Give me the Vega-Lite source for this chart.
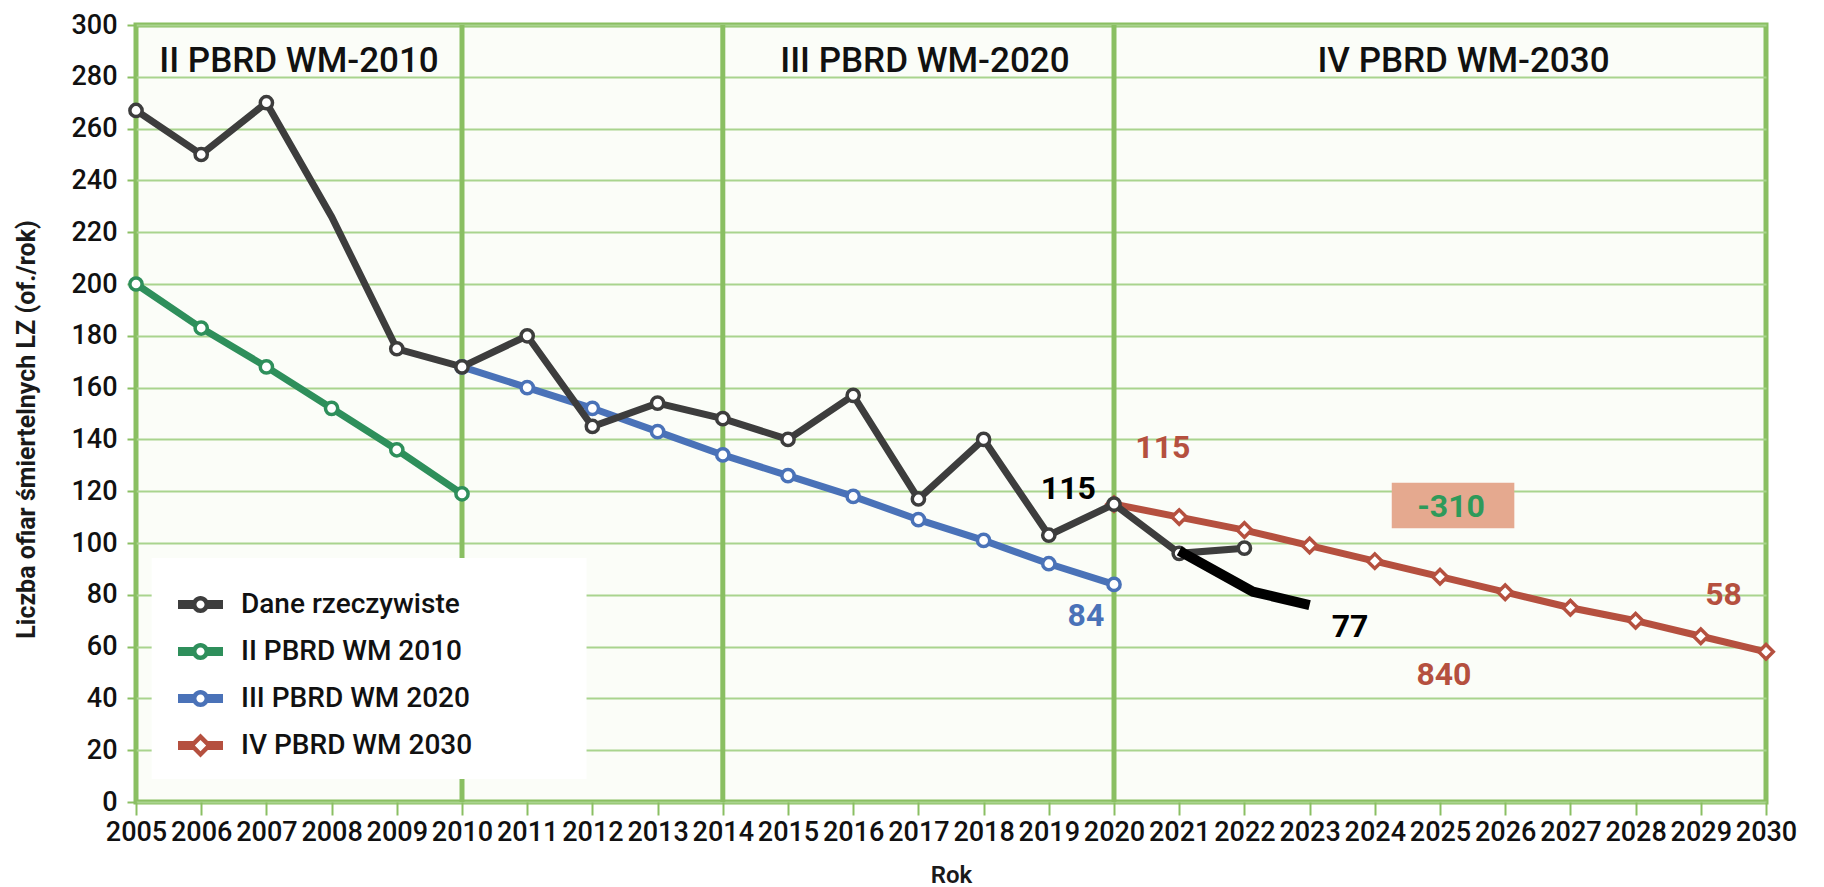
{
  "$schema": "https://vega.github.io/schema/vega-lite/v6.json",
  "width": 1630,
  "height": 777,
  "autosize": {"type": "none"},
  "padding": {"left": 136, "top": 25, "right": 58, "bottom": 85},
  "background": "white",
  "config": {
    "font": "Roboto",
    "view": {"fill": "#fbfdf8", "stroke": "#8abf62", "strokeWidth": 5},
    "axis": {
      "labelFont": "Roboto",
      "labelFontSize": 27,
      "labelFontWeight": 500,
      "labelColor": "#111111",
      "titleFont": "Roboto",
      "titleColor": "#1a1a1a",
      "domain": false,
      "tickColor": "#8abf62",
      "tickWidth": 2
    },
    "legend": {
      "labelFont": "Roboto",
      "labelFontSize": 28,
      "labelFontWeight": 500,
      "labelColor": "#111111"
    }
  },
  "datasets": {
    "serie": [
      {"rok": 2005, "wartosc": 267, "seria": "Dane rzeczywiste"},
      {"rok": 2006, "wartosc": 250, "seria": "Dane rzeczywiste"},
      {"rok": 2007, "wartosc": 270, "seria": "Dane rzeczywiste"},
      {"rok": 2008, "wartosc": 226, "seria": "Dane rzeczywiste"},
      {"rok": 2009, "wartosc": 175, "seria": "Dane rzeczywiste"},
      {"rok": 2010, "wartosc": 168, "seria": "Dane rzeczywiste"},
      {"rok": 2011, "wartosc": 180, "seria": "Dane rzeczywiste"},
      {"rok": 2012, "wartosc": 145, "seria": "Dane rzeczywiste"},
      {"rok": 2013, "wartosc": 154, "seria": "Dane rzeczywiste"},
      {"rok": 2014, "wartosc": 148, "seria": "Dane rzeczywiste"},
      {"rok": 2015, "wartosc": 140, "seria": "Dane rzeczywiste"},
      {"rok": 2016, "wartosc": 157, "seria": "Dane rzeczywiste"},
      {"rok": 2017, "wartosc": 117, "seria": "Dane rzeczywiste"},
      {"rok": 2018, "wartosc": 140, "seria": "Dane rzeczywiste"},
      {"rok": 2019, "wartosc": 103, "seria": "Dane rzeczywiste"},
      {"rok": 2020, "wartosc": 115, "seria": "Dane rzeczywiste"},
      {"rok": 2021, "wartosc": 96, "seria": "Dane rzeczywiste"},
      {"rok": 2022, "wartosc": 98, "seria": "Dane rzeczywiste"},
      {"rok": 2005, "wartosc": 200, "seria": "II PBRD WM 2010"},
      {"rok": 2006, "wartosc": 183, "seria": "II PBRD WM 2010"},
      {"rok": 2007, "wartosc": 168, "seria": "II PBRD WM 2010"},
      {"rok": 2008, "wartosc": 152, "seria": "II PBRD WM 2010"},
      {"rok": 2009, "wartosc": 136, "seria": "II PBRD WM 2010"},
      {"rok": 2010, "wartosc": 119, "seria": "II PBRD WM 2010"},
      {"rok": 2010, "wartosc": 168, "seria": "III PBRD WM 2020"},
      {"rok": 2011, "wartosc": 160, "seria": "III PBRD WM 2020"},
      {"rok": 2012, "wartosc": 152, "seria": "III PBRD WM 2020"},
      {"rok": 2013, "wartosc": 143, "seria": "III PBRD WM 2020"},
      {"rok": 2014, "wartosc": 134, "seria": "III PBRD WM 2020"},
      {"rok": 2015, "wartosc": 126, "seria": "III PBRD WM 2020"},
      {"rok": 2016, "wartosc": 118, "seria": "III PBRD WM 2020"},
      {"rok": 2017, "wartosc": 109, "seria": "III PBRD WM 2020"},
      {"rok": 2018, "wartosc": 101, "seria": "III PBRD WM 2020"},
      {"rok": 2019, "wartosc": 92, "seria": "III PBRD WM 2020"},
      {"rok": 2020, "wartosc": 84, "seria": "III PBRD WM 2020"},
      {"rok": 2020, "wartosc": 115, "seria": "IV PBRD WM 2030"},
      {"rok": 2021, "wartosc": 110, "seria": "IV PBRD WM 2030"},
      {"rok": 2022, "wartosc": 105, "seria": "IV PBRD WM 2030"},
      {"rok": 2023, "wartosc": 99, "seria": "IV PBRD WM 2030"},
      {"rok": 2024, "wartosc": 93, "seria": "IV PBRD WM 2030"},
      {"rok": 2025, "wartosc": 87, "seria": "IV PBRD WM 2030"},
      {"rok": 2026, "wartosc": 81, "seria": "IV PBRD WM 2030"},
      {"rok": 2027, "wartosc": 75, "seria": "IV PBRD WM 2030"},
      {"rok": 2028, "wartosc": 70, "seria": "IV PBRD WM 2030"},
      {"rok": 2029, "wartosc": 64, "seria": "IV PBRD WM 2030"},
      {"rok": 2030, "wartosc": 58, "seria": "IV PBRD WM 2030"}
    ],
    "trend": [
      {"rok": 2021, "wartosc": 97},
      {"rok": 2022.13, "wartosc": 81.2},
      {"rok": 2023, "wartosc": 76}
    ],
    "pionowe": [{"rok": 2010}, {"rok": 2014}, {"rok": 2020}],
    "tloLegendy": [{"rok": 2005.24, "rok2": 2011.91, "wartosc": 8.9, "wartosc2": 94.2}],
    "ramka": [{"rok": 2024.26, "rok2": 2026.14, "wartosc": 105.7, "wartosc2": 123.3}],
    "naglowki": [
      {"rok": 2007.5, "wartosc": 286, "etykieta": "II PBRD WM-2010"},
      {"rok": 2017.1, "wartosc": 286, "etykieta": "III PBRD WM-2020"},
      {"rok": 2025.36, "wartosc": 286, "etykieta": "IV PBRD WM-2030"}
    ],
    "czarne": [
      {"rok": 2019.3, "wartosc": 121, "etykieta": "115"},
      {"rok": 2023.62, "wartosc": 67.7, "etykieta": "77"}
    ],
    "czerwone": [
      {"rok": 2020.75, "wartosc": 136.7, "etykieta": "115"},
      {"rok": 2025.06, "wartosc": 49, "etykieta": "840"},
      {"rok": 2029.35, "wartosc": 80, "etykieta": "58"}
    ],
    "niebieskie": [{"rok": 2019.57, "wartosc": 72, "etykieta": "84"}],
    "zielone": [{"rok": 2025.17, "wartosc": 114, "etykieta": "-310"}]
  },
  "layer": [
    {
      "data": {"name": "pionowe"},
      "mark": {"type": "rule", "color": "#8abf62", "strokeWidth": 5},
      "encoding": {
        "x": {"field": "rok", "type": "quantitative", "title": "Rok",
              "scale": {"domain": [2005, 2030], "nice": false, "zero": false},
              "axis": {"values": [2005,2006,2007,2008,2009,2010,2011,2012,2013,2014,2015,2016,2017,2018,2019,2020,2021,2022,2023,2024,2025,2026,2027,2028,2029,2030],
                       "format": "d", "grid": false, "tickSize": 13, "labelPadding": 4,
                       "labelOverlap": false, "labelFlush": false, "labelFont": "Roboto", "labelFontSize": 27, "labelFontWeight": 500, "labelColor": "#111111",
                       "titleFontSize": 24, "titleFontWeight": 600, "titlePadding": 18,
                       "encode": {"labels": {"update": {"dx": {"signal": "(datum.value - 2005) * 1.2 - 12"}}}}}}
      }
    },
    {
      "data": {"name": "tloLegendy"},
      "mark": {"type": "rect", "fill": "#ffffff"},
      "encoding": {
        "x": {"field": "rok", "type": "quantitative", "title": "Rok"},
        "x2": {"field": "rok2"},
        "y": {"field": "wartosc", "type": "quantitative", "title": "Liczba ofiar śmiertelnych LZ (of./rok)",
              "scale": {"domain": [0, 300], "nice": false, "zero": true},
              "axis": {"values": [0,20,40,60,80,100,120,140,160,180,200,220,240,260,280,300],
                       "grid": true, "gridColor": "#a9d48e", "gridWidth": 2, "tickSize": 9, "labelPadding": 10,
                       "labelOverlap": false, "labelFont": "Roboto", "labelFontSize": 27, "labelFontWeight": 500, "labelColor": "#111111",
                       "titleFontSize": 25, "titleFontWeight": "bold",
                       "titleX": -110, "titleY": 404, "titleAngle": 270, "titleAlign": "center", "titleBaseline": "middle"}},
        "y2": {"field": "wartosc2"}
      }
    },
    {
      "data": {"name": "ramka"},
      "mark": {"type": "rect", "fill": "#e5a98f"},
      "encoding": {
        "x": {"field": "rok", "type": "quantitative", "title": "Rok"},
        "x2": {"field": "rok2"},
        "y": {"field": "wartosc", "type": "quantitative", "title": "Liczba ofiar śmiertelnych LZ (of./rok)"},
        "y2": {"field": "wartosc2"}
      }
    },
    {
      "data": {"name": "serie"},
      "transform": [{"filter": "datum.seria != 'Dane rzeczywiste'"}],
      "mark": {"type": "line", "strokeWidth": 7},
      "encoding": {
        "x": {"field": "rok", "type": "quantitative", "title": "Rok"},
        "y": {"field": "wartosc", "type": "quantitative", "title": "Liczba ofiar śmiertelnych LZ (of./rok)"},
        "color": {"field": "seria", "type": "nominal",
                  "scale": {"domain": ["Dane rzeczywiste", "II PBRD WM 2010", "III PBRD WM 2020", "IV PBRD WM 2030"],
                            "range": ["#3d3d3d", "#2e8f5b", "#4a72b8", "#b5503f"]},
                  "legend": {
                    "orient": "none", "legendX": 42, "legendY": 557, "title": null, "padding": 0,
                    "rowPadding": 10, "symbolSize": 2025, "labelOffset": 18, "labelFont": "Roboto",
                    "labelFontSize": 28, "labelFontWeight": 500, "labelColor": "#111111", "labelLimit": 400,
                    "symbolStrokeWidth": 0,
                    "encode": {"symbols": {"update": {
                      "shape": {"signal": "datum.value === 'IV PBRD WM 2030' ? 'M-1,-0.2H-0.3V0.2H-1Z M0.3,-0.2H1V0.2H0.3Z M0,-0.53L0.53,0L0,0.53L-0.53,0Z M0,-0.25L-0.25,0L0,0.25L0.25,0Z' : 'M-1,-0.2H-0.3V0.2H-1Z M0.3,-0.2H1V0.2H0.3Z M0.38,0A0.38,0.38,0,1,1,-0.38,0A0.38,0.38,0,1,1,0.38,0Z M0.18,0A0.18,0.18,0,1,0,-0.18,0A0.18,0.18,0,1,0,0.18,0Z'"},
                      "fill": {"scale": "color", "field": "value"},
                      "stroke": {"value": "transparent"},
                      "strokeWidth": {"value": 0},
                      "opacity": {"value": 1}
                    }}}
                  }}
      }
    },
    {
      "data": {"name": "serie"},
      "transform": [{"filter": "datum.seria == 'II PBRD WM 2010'"}],
      "mark": {"type": "point", "shape": "circle", "size": 150, "filled": true, "fill": "#ffffff", "stroke": "#2e8f5b", "strokeWidth": 3.5, "opacity": 1},
      "encoding": {
        "x": {"field": "rok", "type": "quantitative", "title": "Rok"},
        "y": {"field": "wartosc", "type": "quantitative", "title": "Liczba ofiar śmiertelnych LZ (of./rok)"}
      }
    },
    {
      "data": {"name": "serie"},
      "transform": [{"filter": "datum.seria == 'III PBRD WM 2020'"}],
      "mark": {"type": "point", "shape": "circle", "size": 150, "filled": true, "fill": "#ffffff", "stroke": "#4a72b8", "strokeWidth": 3.5, "opacity": 1},
      "encoding": {
        "x": {"field": "rok", "type": "quantitative", "title": "Rok"},
        "y": {"field": "wartosc", "type": "quantitative", "title": "Liczba ofiar śmiertelnych LZ (of./rok)"}
      }
    },
    {
      "data": {"name": "serie"},
      "transform": [{"filter": "datum.seria == 'IV PBRD WM 2030'"}],
      "mark": {"type": "point", "shape": "diamond", "size": 210, "filled": true, "fill": "#ffffff", "stroke": "#b5503f", "strokeWidth": 3.5, "opacity": 1},
      "encoding": {
        "x": {"field": "rok", "type": "quantitative", "title": "Rok"},
        "y": {"field": "wartosc", "type": "quantitative", "title": "Liczba ofiar śmiertelnych LZ (of./rok)"}
      }
    },
    {
      "data": {"name": "serie"},
      "transform": [{"filter": "datum.seria == 'Dane rzeczywiste'"}],
      "mark": {"type": "line", "strokeWidth": 7, "color": "#3d3d3d"},
      "encoding": {
        "x": {"field": "rok", "type": "quantitative", "title": "Rok"},
        "y": {"field": "wartosc", "type": "quantitative", "title": "Liczba ofiar śmiertelnych LZ (of./rok)"}
      }
    },
    {
      "data": {"name": "serie"},
      "transform": [{"filter": "datum.seria == 'Dane rzeczywiste' && datum.rok != 2008"}],
      "mark": {"type": "point", "shape": "circle", "size": 150, "filled": true, "fill": "#ffffff", "stroke": "#3d3d3d", "strokeWidth": 3.5, "opacity": 1},
      "encoding": {
        "x": {"field": "rok", "type": "quantitative", "title": "Rok"},
        "y": {"field": "wartosc", "type": "quantitative", "title": "Liczba ofiar śmiertelnych LZ (of./rok)"}
      }
    },
    {
      "data": {"name": "trend"},
      "mark": {"type": "line", "color": "#000000", "strokeWidth": 10, "strokeCap": "butt", "strokeJoin": "miter"},
      "encoding": {
        "x": {"field": "rok", "type": "quantitative", "title": "Rok"},
        "y": {"field": "wartosc", "type": "quantitative", "title": "Liczba ofiar śmiertelnych LZ (of./rok)"}
      }
    },
    {
      "data": {"name": "naglowki"},
      "mark": {"type": "text", "font": "Roboto", "fontSize": 35, "fontWeight": 500, "color": "#111111", "align": "center", "baseline": "middle"},
      "encoding": {
        "x": {"field": "rok", "type": "quantitative", "title": "Rok"},
        "y": {"field": "wartosc", "type": "quantitative", "title": "Liczba ofiar śmiertelnych LZ (of./rok)"},
        "text": {"field": "etykieta"}
      }
    },
    {
      "data": {"name": "czarne"},
      "mark": {"type": "text", "font": "Roboto", "fontSize": 32, "fontWeight": "bold", "color": "#000000", "align": "center", "baseline": "middle"},
      "encoding": {
        "x": {"field": "rok", "type": "quantitative", "title": "Rok"},
        "y": {"field": "wartosc", "type": "quantitative", "title": "Liczba ofiar śmiertelnych LZ (of./rok)"},
        "text": {"field": "etykieta"}
      }
    },
    {
      "data": {"name": "czerwone"},
      "mark": {"type": "text", "font": "Roboto", "fontSize": 32, "fontWeight": "bold", "color": "#b5503f", "align": "center", "baseline": "middle"},
      "encoding": {
        "x": {"field": "rok", "type": "quantitative", "title": "Rok"},
        "y": {"field": "wartosc", "type": "quantitative", "title": "Liczba ofiar śmiertelnych LZ (of./rok)"},
        "text": {"field": "etykieta"}
      }
    },
    {
      "data": {"name": "niebieskie"},
      "mark": {"type": "text", "font": "Roboto", "fontSize": 32, "fontWeight": "bold", "color": "#4a72b8", "align": "center", "baseline": "middle"},
      "encoding": {
        "x": {"field": "rok", "type": "quantitative", "title": "Rok"},
        "y": {"field": "wartosc", "type": "quantitative", "title": "Liczba ofiar śmiertelnych LZ (of./rok)"},
        "text": {"field": "etykieta"}
      }
    },
    {
      "data": {"name": "zielone"},
      "mark": {"type": "text", "font": "Roboto", "fontSize": 32, "fontWeight": "bold", "color": "#2e9a5a", "align": "center", "baseline": "middle"},
      "encoding": {
        "x": {"field": "rok", "type": "quantitative", "title": "Rok"},
        "y": {"field": "wartosc", "type": "quantitative", "title": "Liczba ofiar śmiertelnych LZ (of./rok)"},
        "text": {"field": "etykieta"}
      }
    }
  ]
}
